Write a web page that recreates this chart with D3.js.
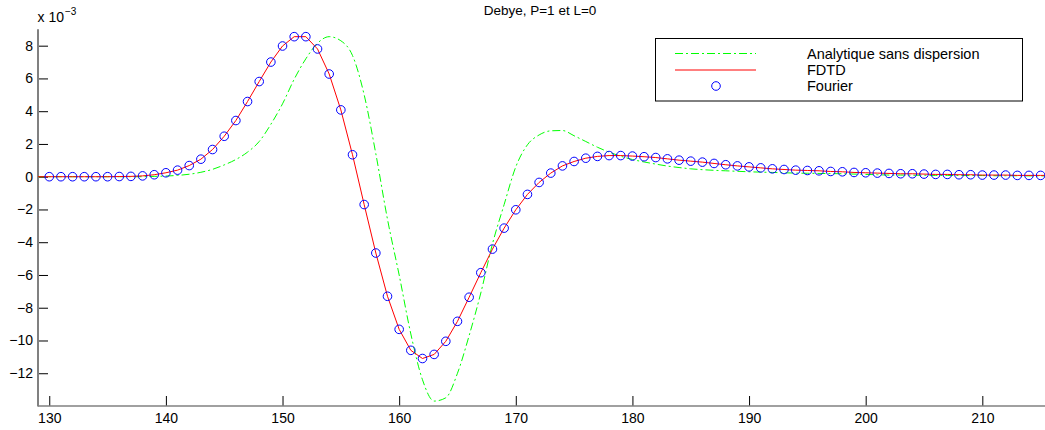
<!DOCTYPE html>
<html>
<head>
<meta charset="utf-8">
<script src="https://cdn.jsdelivr.net/npm/d3@7"></script>
<style>
  html, body { margin: 0; padding: 0; background: #fff; }
  svg { display: block; font-family: "Liberation Sans", Arial, Helvetica, sans-serif; }
</style>
</head>
<body>
<svg id="chart" width="1045" height="430"></svg>
<script>
// ---- data (y values in units of 1e-3) ----
const titleText = "Debye, P=1 et L=0";
const legendLabels = ["Analytique sans dispersion", "FDTD", "Fourier"];
const xTicks = [130, 140, 150, 160, 170, 180, 190, 200, 210];
const yTicks = [-12, -10, -8, -6, -4, -2, 0, 2, 4, 6, 8];

const fourierX = [130,131,132,133,134,135,136,137,138,139,140,141,142,143,144,145,146,147,148,149,
  150,151,152,153,154,155,156,157,158,159,160,161,162,163,164,165,166,167,168,169,
  170,171,172,173,174,175,176,177,178,179,180,181,182,183,184,185,186,187,188,189,
  190,191,192,193,194,195,196,197,198,199,200,201,202,203,204,205,206,207,208,209,
  210,211,212,213,214,215];
const fourierY = [0,0,0,0,0,0,0.01,0.02,0.05,0.12,0.24,0.40,0.68,1.07,1.66,2.47,3.43,4.59,5.81,7.00,
  7.98,8.55,8.55,7.80,6.27,4.08,1.34,-1.70,-4.66,-7.30,-9.32,-10.6,-11.1,-10.85,-10.05,-8.83,-7.36,-5.86,-4.42,-3.14,
  -2.02,-1.08,-0.35,0.22,0.66,0.93,1.13,1.24,1.29,1.29,1.26,1.22,1.17,1.09,1.01,0.95,0.89,0.81,0.73,0.66,
  0.60,0.54,0.48,0.44,0.40,0.38,0.36,0.32,0.30,0.26,0.24,0.22,0.20,0.18,0.18,0.16,0.14,0.14,0.12,0.12,
  0.10,0.10,0.10,0.08,0.08,0.08];

const fdtdX = [129,130,131,132,133,134,135,136,137,138,139,140,141,142,143,144,145,146,147,148,149,
  150,151,152,153,154,155,156,157,158,159,160,161,162,163,164,165,166,167,168,169,
  170,171,172,173,174,175,176,177,178,179,180,181,182,183,184,185,186,187,188,189,
  190,191,192,193,194,195,196,197,198,199,200,201,202,203,204,205,206,207,208,209,
  210,211,212,213,214,215,216];
const fdtdY = [0,0,0,0,0,0,0,0.01,0.02,0.05,0.12,0.24,0.40,0.68,1.07,1.66,2.47,3.43,4.59,5.81,7.00,
  7.98,8.55,8.55,7.80,6.27,4.08,1.34,-1.70,-4.66,-7.30,-9.32,-10.6,-11.1,-10.85,-10.05,-8.83,-7.36,-5.86,-4.42,-3.14,
  -2.02,-1.08,-0.35,0.22,0.66,0.93,1.13,1.24,1.29,1.29,1.26,1.22,1.17,1.09,1.01,0.95,0.89,0.81,0.73,0.66,
  0.60,0.54,0.48,0.44,0.40,0.38,0.36,0.32,0.30,0.26,0.24,0.22,0.20,0.18,0.18,0.16,0.14,0.14,0.12,0.12,
  0.10,0.10,0.10,0.08,0.08,0.08,0.08];

const analytX = fdtdX;
const analytY = [0,0,0,0,0,0,0,0,0,0,0.02,0.04,0.08,0.15,0.27,0.45,0.72,1.05,1.50,2.15,3.20,
  4.45,5.95,7.20,8.15,8.55,8.30,7.40,5.00,1.40,-2.60,-6.00,-9.60,-12.4,-13.7,-13.5,-12.0,-9.70,-7.10,-4.10,-1.70,
  0.60,1.95,2.55,2.80,2.82,2.50,2.15,1.80,1.50,1.25,1.05,0.90,0.77,0.65,0.56,0.48,0.43,0.39,0.36,0.33,
  0.30,0.28,0.26,0.24,0.22,0.21,0.20,0.19,0.18,0.16,0.14,0.12,0.10,0.10,0.09,0.09,0.08,0.08,0.07,0.07,
  0.07,0.06,0.06,0.06,0.05,0.05,0.05];

// ---- layout ----
const svg = d3.select("#chart");
const pLeft = 37.6, pRight = 1045.3, pTop = 29.3, pBottom = 406;
const tickFont = 14;

const x = d3.scaleLinear().domain([129, 215.4]).range([pLeft, pRight]);
const y = d3.scaleLinear().domain([-14, 9]).range([pBottom, pTop]);

svg.append("defs").append("clipPath").attr("id", "clip")
  .append("rect").attr("x", 38).attr("y", pTop).attr("width", 1045 - 38).attr("height", pBottom - pTop);

// title
svg.append("text").attr("x", 540).attr("y", 15).attr("text-anchor", "middle")
  .attr("font-size", 13.5).attr("fill", "#000").text(titleText);

// exponent label
const expo = svg.append("text").attr("x", 37.5).attr("y", 22).attr("font-size", tickFont).attr("fill", "#000");
expo.append("tspan").text("x 10");
expo.append("tspan").attr("dx", 1).attr("dy", -7).attr("font-size", 10).text("\u22123");

// axes
const xAxis = d3.axisBottom(x).tickValues(xTicks).tickSize(-10).tickPadding(7).tickFormat(d3.format("d"));
const gx = svg.append("g").attr("transform", `translate(0,${pBottom})`).call(xAxis);
gx.select(".domain").remove();
gx.selectAll(".tick line").attr("stroke", "#000");
gx.selectAll(".tick text").attr("font-size", tickFont).attr("font-family", "Liberation Sans, Arial, sans-serif").attr("fill", "#000");

const yAxis = d3.axisLeft(y).tickValues(yTicks).tickSize(-10).tickPadding(5)
  .tickFormat(d => d < 0 ? "\u2212" + Math.abs(d) : String(d));
const gy = svg.append("g").attr("transform", `translate(38,0)`).call(yAxis);
gy.select(".domain").remove();
gy.selectAll(".tick line").attr("stroke", "#000");
gy.selectAll(".tick text").attr("font-size", tickFont).attr("font-family", "Liberation Sans, Arial, sans-serif").attr("fill", "#000");

// spines
svg.append("line").attr("x1", 38).attr("x2", 38).attr("y1", pTop).attr("y2", pBottom + 0.5)
  .attr("stroke", "#808080").attr("stroke-width", 2);
svg.append("line").attr("x1", 38).attr("x2", 1045).attr("y1", pBottom).attr("y2", pBottom)
  .attr("stroke", "#808080").attr("stroke-width", 1.5);

const plot = svg.append("g").attr("clip-path", "url(#clip)");

// analytic (green dash-dot)
const lineA = d3.line().x((d, i) => x(analytX[i])).y(d => y(d)).curve(d3.curveMonotoneX);
plot.append("path").attr("d", lineA(analytY)).attr("fill", "none")
  .attr("stroke", "#00ff00").attr("stroke-width", 1).attr("stroke-dasharray", "8,3,2,3");

// FDTD red
const lineF = d3.line().x((d, i) => x(fdtdX[i])).y(d => y(d));
plot.append("path").attr("d", lineF(fdtdY)).attr("fill", "none")
  .attr("stroke", "#ff0000").attr("stroke-width", 1);

// Fourier circles
plot.selectAll("circle.f").data(fourierY).enter().append("circle")
  .attr("class", "f")
  .attr("cx", (d, i) => x(fourierX[i])).attr("cy", d => y(d)).attr("r", 4.3)
  .attr("fill", "none").attr("stroke", "#0000ff").attr("stroke-width", 1);

// legend
const lg = svg.append("g");
lg.append("rect").attr("x", 655.5).attr("y", 38.5).attr("width", 367).attr("height", 62.5)
  .attr("fill", "#fff").attr("stroke", "#000").attr("stroke-width", 1);
const rows = [53.5, 70, 86];
lg.append("line").attr("x1", 675).attr("x2", 756).attr("y1", rows[0]).attr("y2", rows[0])
  .attr("stroke", "#00ff00").attr("stroke-width", 1).attr("stroke-dasharray", "8,3,2,3");
lg.append("line").attr("x1", 675).attr("x2", 756).attr("y1", rows[1]).attr("y2", rows[1])
  .attr("stroke", "#ff0000").attr("stroke-width", 1);
lg.append("circle").attr("cx", 716).attr("cy", rows[2]).attr("r", 4.3)
  .attr("fill", "none").attr("stroke", "#0000ff").attr("stroke-width", 1);
legendLabels.forEach((t, i) => {
  lg.append("text").attr("x", 807).attr("y", rows[i] + 5).attr("font-size", 14.5)
    .attr("fill", "#000").text(t);
});
</script>
</body>
</html>
